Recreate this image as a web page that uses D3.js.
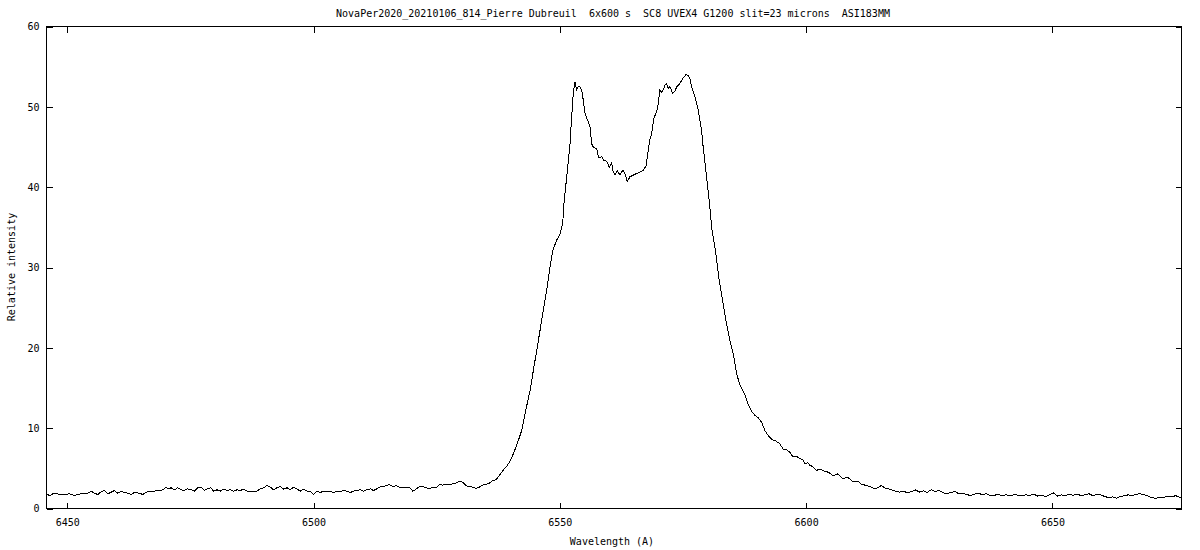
<!DOCTYPE html>
<html>
<head>
<meta charset="utf-8">
<script src="https://cdn.jsdelivr.net/npm/d3@7"></script>
<style>
  html, body { margin: 0; padding: 0; background: #fff; }
  svg { display: block; }
  text { font-family: "DejaVu Sans Mono", "Liberation Mono", monospace; font-size: 10px; fill: #000; white-space: pre; }
</style>
</head>
<body>
<svg id="chart" width="1200" height="550"></svg>
<script>
const titleText = "NovaPer2020_20210106_814_Pierre Dubreuil  6x600 s  SC8 UVEX4 G1200 slit=23 microns  ASI183MM";
const xLabel = "Wavelength (A)";
const yLabel = "Relative intensity";
const xDomain = [6445.8, 6676.2];
const yDomain = [0, 60];
const xTicks = [6450, 6500, 6550, 6600, 6650];
const yTicks = [0, 10, 20, 30, 40, 50, 60];

const wavelength = [
6445.85,6446.41,6447.08,6447.77,6448.44,6449.45,6450.47,6451.48,6452.15,6453.16,
6454.18,6454.87,6455.54,6456.21,6456.90,6457.56,6458.23,6458.92,6459.59,6460.26,
6460.95,6461.62,6462.29,6462.98,6463.65,6464.66,6465.33,6466.02,6466.69,6467.70,
6468.72,6469.39,6470.08,6470.54,6471.09,6471.76,6472.43,6473.12,6473.79,6474.46,
6475.15,6475.82,6476.49,6477.18,6477.85,6478.51,6479.20,
6479.73,6480.42,6481.09,6481.76,6482.45,6483.12,6483.79,6484.48,6485.15,6485.82,
6486.50,6487.17,6487.84,6488.53,6489.20,6489.87,6490.56,6491.23,6491.90,6492.59,
6493.26,6493.93,6494.62,6495.29,6495.96,6496.64,6497.31,6497.98,6498.67,6499.34,
6500.01,6500.70,6501.37,6502.04,6502.73,6503.40,6504.07,6504.76,6505.43,6506.10,
6506.79,6507.46,6508.13,6508.82,6509.49,6510.16,6510.85,6511.52,6512.19,6512.88,
6513.40,6514.08,6514.75,6515.42,6516.11,6516.78,6517.45,6518.14,6518.81,6519.48,
6520.17,6520.84,6521.51,6522.19,6522.86,6523.53,6524.22,6524.89,6525.56,6526.25,
6526.92,6527.59,6528.28,6528.95,6529.62,6530.31,6530.98,6531.65,6532.34,6533.01,
6533.68,6534.37,6535.04,6535.71,6536.40,6537.07,6537.74,6538.43,6539.10,6539.77,
6540.57,6541.58,6542.27,6542.94,6543.96,6544.63,6545.32,6545.99,6546.65,6547.34,
6548.01,6548.56,6549.37,6550.04,6550.59,6550.85,6551.40,6552.07,6552.41,6552.74,
6553.08,6553.43,6553.75,6554.10,6554.44,6554.77,6555.11,6555.78,6556.13,6556.47,
6556.79,6557.48,6557.81,6558.15,6558.50,6558.82,6559.51,6560.04,6560.53,6560.73,
6561.20,6561.66,6562.21,6562.55,6562.88,6563.22,6563.69,6564.24,6564.91,6565.60,
6566.27,6566.93,6567.48,6567.95,6568.29,6568.64,6569.10,6569.65,6569.98,6570.32,
6570.67,6570.99,6571.34,6571.68,6572.00,6572.35,6572.90,6573.36,6573.71,6574.03,
6574.38,6574.72,6575.19,6575.59,6576.06,6576.40,6576.75,6577.42,6578.09,6578.78,
6579.10,6579.79,6580.46,6580.81,6581.68,6582.35,6583.04,6583.71,6584.52,6585.33,
6585.88,6586.55,6587.56,6588.23,6588.92,6589.59,6590.26,6590.95,6591.62,6592.28,
6593.03,6593.85,6594.66,6595.33,6596.02,6596.69,6597.35,6598.04,6598.71,6599.32,
6599.73,6600.34,6600.74,6601.35,6602.10,6602.77,6603.78,6604.59,6605.47,6606.42,
6607.49,6608.45,6609.52,6610.48,6611.29,6612.24,6613.11,6613.92,6614.53,6615.28,
6616.15,6616.97,6617.98,6618.99,
6619.8,6620.6,6621.4,6622.2,6623.0,6623.8,6624.6,6625.4,6626.2,6627.0,
6627.8,6628.6,6629.4,6630.2,6631.0,6631.8,6632.6,6633.4,6634.2,6635.0,
6635.8,6636.6,6637.4,6638.2,6639.0,6639.8,6640.6,6641.4,6642.2,6643.0,
6643.8,6644.6,6645.4,6646.2,6647.0,6647.8,6648.6,6649.4,6650.2,6651.0,
6651.8,6652.6,6653.4,6654.2,6655.0,6655.8,6656.6,6657.4,6658.2,6659.0,
6659.8,6660.6,6661.4,6662.2,6663.0,6663.8,6664.6,6665.4,6666.2,6667.0,
6667.8,6668.6,6669.4,6670.2,6671.0,6671.8,6672.6,6673.4,6674.2,6675.0,
6675.8,6676.2
];

const intensity = [
1.83,1.58,1.83,1.91,1.74,1.74,1.83,1.62,1.74,1.91,
1.91,2.16,1.91,1.74,2.08,2.24,1.83,2.03,2.24,1.91,
2.16,1.99,1.91,1.74,1.99,1.91,1.74,1.99,2.16,2.16,
2.24,2.33,2.66,2.45,2.58,2.33,2.58,2.33,2.24,2.45,
2.33,2.16,2.58,2.66,2.24,2.45,2.58,
2.16,2.33,2.16,2.41,2.24,2.33,2.16,2.33,2.24,2.41,
2.16,2.16,2.08,2.16,2.45,2.58,2.87,2.66,2.33,2.58,
2.74,2.41,2.58,2.33,2.66,2.45,2.16,2.41,2.16,2.16,
1.74,2.16,1.99,2.16,2.08,2.16,1.99,2.16,2.08,2.24,
2.16,1.99,2.16,2.24,2.33,2.16,2.33,2.45,2.24,2.45,
2.66,2.74,2.83,2.99,2.74,2.83,2.66,2.66,2.58,2.66,
2.16,2.41,2.74,2.74,2.58,2.45,2.66,2.58,2.99,2.91,
2.99,2.99,3.07,3.16,3.41,3.24,2.83,2.74,2.66,2.49,
2.66,2.91,2.99,3.16,3.49,3.57,4.11,4.73,5.15,5.77,
6.80,8.47,9.72,11.8,14.7,17.2,19.7,22.2,24.7,27.2,
30.1,32.1,33.4,34.2,35.5,38.0,41.3,45.4,48.8,51.7,
53.1,52.1,52.5,52.5,52.1,50.8,49.2,48.1,47.5,45.4,
45.0,44.8,43.8,43.6,43.8,43.4,43.2,42.5,43.0,42.1,
41.5,42.1,41.5,41.9,42.1,41.7,40.7,41.3,41.5,41.7,
41.9,42.1,42.6,44.6,45.9,46.7,48.6,49.4,50.4,52.1,
51.8,52.1,52.7,52.9,52.3,52.5,51.7,51.9,52.5,52.7,
52.9,53.3,53.7,54.0,53.9,53.5,52.5,51.3,49.6,47.1,
45.0,41.3,37.5,35.05,31.7,28.4,25.9,23.4,20.9,18.9,
16.8,15.4,14.2,13.0,12.1,11.6,11.3,10.75,9.72,9.1,
8.6,8.4,8.06,7.4,7.3,7.0,6.4,6.5,6.2,6.1,
5.6,5.7,5.4,5.2,4.74,4.9,4.65,4.5,4.1,4.3,
3.7,3.9,3.3,3.4,3.0,2.87,2.7,2.45,2.6,2.87,
2.5,2.4,2.2,2.03,
2.15,1.95,2.1,2.3,2.05,2.2,2.0,2.35,2.1,2.25,
1.95,1.85,2.0,2.1,1.85,1.9,1.75,1.6,1.8,1.9,
1.7,1.85,1.6,1.65,1.75,1.6,1.7,1.55,1.75,1.65,
1.55,1.7,1.6,1.8,1.55,1.65,1.5,1.7,1.95,1.55,
1.7,1.6,1.75,1.65,1.8,1.6,1.7,1.85,1.6,1.75,
1.7,1.5,1.35,1.45,1.3,1.5,1.6,1.7,1.6,1.75,
1.85,1.7,1.55,1.35,1.25,1.4,1.35,1.55,1.45,1.6,
1.4,1.45
];

const svg = d3.select("#chart");
const padL = 46.5, padR = 1181.5, padT = 26.5, padB = 508.5;

const x = d3.scaleLinear().domain(xDomain).range([padL, padR]);
const y = d3.scaleLinear().domain(yDomain).range([padB, padT]);

// title
svg.append("text").attr("x", 613).attr("y", 17).attr("text-anchor", "middle")
  .attr("xml:space", "preserve").style("white-space", "pre").text(titleText);

// axes
const gB = svg.append("g").attr("transform", `translate(0,${padB})`)
  .call(d3.axisBottom(x).tickValues(xTicks).tickFormat(d3.format("d")).tickSizeInner(-6).tickSizeOuter(0).tickPadding(10));
const gT = svg.append("g").attr("transform", `translate(0,${padT})`)
  .call(d3.axisTop(x).tickValues(xTicks).tickFormat("").tickSizeInner(-6).tickSizeOuter(0));
const gL = svg.append("g").attr("transform", `translate(${padL},0)`)
  .call(d3.axisLeft(y).tickValues(yTicks).tickFormat(d3.format("d")).tickSizeInner(-6).tickSizeOuter(0).tickPadding(7));
const gR = svg.append("g").attr("transform", `translate(${padR},0)`)
  .call(d3.axisRight(y).tickValues(yTicks).tickFormat("").tickSizeInner(-6).tickSizeOuter(0));

[gB, gT, gL, gR].forEach(g => {
  g.select(".domain").remove();
  g.selectAll("line").attr("stroke", "#000").attr("shape-rendering", "crispEdges");
  g.selectAll("text").attr("font-family", null).attr("font-size", null).attr("fill", "#000");
});

// border
svg.append("rect").attr("x", padL).attr("y", padT).attr("width", padR - padL).attr("height", padB - padT)
  .attr("fill", "none").attr("stroke", "#000").attr("shape-rendering", "crispEdges");

// line
const pts = wavelength.map((w, i) => [w, intensity[i]]);
svg.append("path").datum(pts)
  .attr("fill", "none").attr("stroke", "#000").attr("stroke-width", 1)
  .attr("shape-rendering", "crispEdges")
  .attr("d", d3.line().x(d => x(d[0])).y(d => y(d[1])));

// axis labels
svg.append("text").attr("x", 612).attr("y", 545).attr("text-anchor", "middle").text(xLabel);
svg.append("text").attr("transform", "translate(15,267) rotate(-90)").attr("text-anchor", "middle").text(yLabel);
</script>
</body>
</html>
